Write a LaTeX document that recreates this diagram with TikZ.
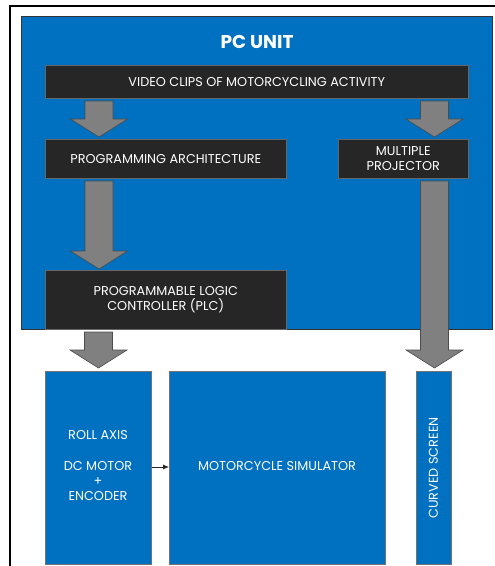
\documentclass[tikz,border=0pt]{standalone}
\usepackage{fontspec}
\setmainfont{Poppins}
\usetikzlibrary{calc,arrows.meta}
\definecolor{pcblue}{HTML}{0070C0}
\definecolor{darkbox}{HTML}{262626}
\definecolor{arrgray}{HTML}{808080}
\newcommand\bodyfont{\fontsize{12.8}{15.3}\selectfont}
\tikzset{
  darknode/.style={draw=black!60,line width=0.6pt,fill=darkbox,text=white,align=center,inner sep=0pt,font=\bodyfont},
  bluenode/.style={draw=black!55,line width=0.8pt,fill=pcblue,text=white,align=center,inner sep=0pt},
  fatarrow/.style={draw=black!70,line width=0.6pt,fill=arrgray,line join=miter},
  lbl/.style={text=white,align=center,font=\bodyfont}
}
\newcommand\fatarr[2]{%
  \path[fatarrow] let \p1=(#1), \p2=(#2) in
   (\x1-14pt,\y1) -- (\x1+14pt,\y1) -- (\x1+14pt,\y2+18pt) -- (\x1+28.5pt,\y2+18pt)
   -- (\x1,\y2) -- (\x1-28.5pt,\y2+18pt) -- (\x1-14pt,\y2+18pt) -- cycle;}
\begin{document}
\begin{tikzpicture}[x=1pt,y=-1pt]
\useasboundingbox (0,0) rectangle (495,566);
% outer frame
\coordinate (fTL) at (10,6);
\coordinate (fTR) at (496,6);
\coordinate (fBL) at (10,567);
\draw[line width=1.6pt,black] (fBL) -- (fTL) -- (fTR);
% PC unit
\node[bluenode,draw=black!80,line width=0.6pt,minimum width=471pt,minimum height=313pt,anchor=north west] (pc) at (21,16) {};
\node[text=white,font=\fontsize{18.5}{22}\selectfont\bfseries] (title) at (257,42) {PC UNIT};
% dark boxes
\node[darknode,minimum width=423pt,minimum height=33pt,anchor=north west] (vid) at (45,65) {VIDEO CLIPS OF MOTORCYCLING ACTIVITY};
\node[darknode,minimum width=241pt,minimum height=39pt,anchor=north west] (pa) at (45,139) {PROGRAMMING ARCHITECTURE};
\node[darknode,minimum width=130pt,minimum height=39pt,anchor=north west] (mp) at (338,139) {MULTIPLE\\PROJECTOR};
\node[darknode,minimum width=241pt,minimum height=59pt,anchor=north west] (plc) at (45,270) {PROGRAMMABLE LOGIC\\CONTROLLER (PLC)};
% blue bottom boxes
\node[bluenode,minimum width=106pt,minimum height=193pt,anchor=north west] (roll) at (45,371) {};
\node[lbl,anchor=north] (rolltxt) at (98,427) {ROLL AXIS\\\phantom{X}\\DC MOTOR\\+\\ENCODER};
\node[bluenode,minimum width=216pt,minimum height=193pt,anchor=north west] (sim) at (169,371) {};
\node[lbl] (simtxt) at (277,466) {MOTORCYCLE SIMULATOR};
\node[bluenode,minimum width=35pt,minimum height=193pt,anchor=north west] (cs) at (416,371) {};
\node[lbl,rotate=90] (cstxt) at (433.5,468) {CURVED SCREEN};
% fat arrows
\coordinate (a1s) at (99,101); \coordinate (a1e) at (99,137);
\coordinate (a2s) at (434.5,101); \coordinate (a2e) at (434.5,137);
\coordinate (a3s) at (99,181); \coordinate (a3e) at (99,269);
\coordinate (a4s) at (98.5,332); \coordinate (a4e) at (98.5,368);
\coordinate (a5s) at (434.5,181); \coordinate (a5e) at (434.5,368);
\fatarr{a1s}{a1e}
\fatarr{a2s}{a2e}
\fatarr{a3s}{a3e}
\fatarr{a4s}{a4e}
\fatarr{a5s}{a5e}
% small arrow
\draw[-{Latex[length=6pt,width=5pt]},line width=0.8pt,black!85] (roll.east |- 0,467) -- (sim.west |- 0,467);
\end{tikzpicture}
\end{document}
